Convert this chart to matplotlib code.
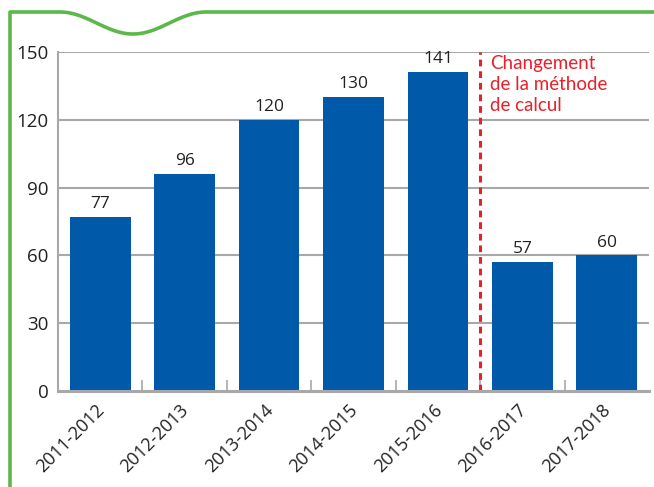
import numpy as np
import matplotlib
matplotlib.use("Agg")
import matplotlib.pyplot as plt

plt.rcParams['font.family'] = ['Open Sans', 'DejaVu Sans']

# Data
years = ["2011-2012", "2012-2013", "2013-2014", "2014-2015",
         "2015-2016", "2016-2017", "2017-2018"]
values = [77, 96, 120, 130, 141, 57, 60]
yticks = [0, 30, 60, 90, 120, 150]
note = "Changement\nde la méthode\nde calcul"

blue = "#005aa9"
red = "#e8202a"
green = "#5cb84a"
grid_gray = "#a8a8a8"
text_col = "#222222"

fig = plt.figure(figsize=(6.54, 4.87), dpi=100)

# green frame with the little wave at the top (pixel coordinates)
bg = fig.add_axes([0, 0, 1, 1], zorder=0)
bg.set_xlim(0, 654)
bg.set_ylim(487, 0)
bg.axis("off")
xw = np.linspace(60, 206, 100)
yw = 12 + 22 * (1 - np.cos(2 * np.pi * (xw - 60) / 146)) / 2
frame_x = np.concatenate([[10, 10], xw, [654]])
frame_y = np.concatenate([[487, 12], yw, [12]])
bg.plot(frame_x, frame_y, color=green, lw=2.6, solid_joinstyle="round")

ax = fig.add_axes([58 / 654, 1 - 391 / 487, (649 - 58) / 654, (391 - 52) / 487], zorder=1)
ax.patch.set_alpha(0)

x = np.arange(len(years))
bars = ax.bar(x, values, width=0.72, color=blue, zorder=3)

for xi, v in zip(x, values):
    ax.annotate(str(v), (xi, v), xytext=(0, 3.5), textcoords="offset points",
                ha="center", va="bottom", fontsize=12.5, color=text_col)

ax.set_xlim(-0.5, len(years) - 0.5)
ax.set_ylim(0, 150)
ax.set_yticks(yticks)
ax.set_yticklabels([str(t) for t in yticks], fontsize=13.5, color=text_col)
ax.tick_params(axis="y", length=0, pad=7)

# horizontal grid lines
for t in yticks[1:]:
    ax.axhline(t, color=grid_gray, lw=1.5, zorder=1)

# x axis: labels at the bars, small ticks between categories
ax.set_xticks(x)
ax.set_xticklabels(years, rotation=45, ha="right", va="center_baseline",
                   rotation_mode="anchor", fontsize=13, color=text_col)
ax.tick_params(axis="x", length=0, pad=11)
ax.set_xticks(np.arange(0.5, len(years) - 0.5), minor=True)
ax.tick_params(axis="x", which="minor", direction="in", length=8,
               width=1.2, color=grid_gray)

for s in ["top", "right"]:
    ax.spines[s].set_visible(False)
ax.spines["left"].set_color(grid_gray)
ax.spines["left"].set_linewidth(1.5)
ax.spines["bottom"].set_color(grid_gray)
ax.spines["bottom"].set_linewidth(2.2)
ax.spines["bottom"].set_zorder(4)

# change of method marker
ax.axvline(4.5, color=red, lw=2.2, ls=(0, (2.2, 1.6)), zorder=4)
ax.text(4.62, 148.5, note, color=red, fontsize=13.5, ha="left", va="top",
        linespacing=1.26, family=["Lato", "DejaVu Sans"])

fig.savefig("out.png", dpi=100)
